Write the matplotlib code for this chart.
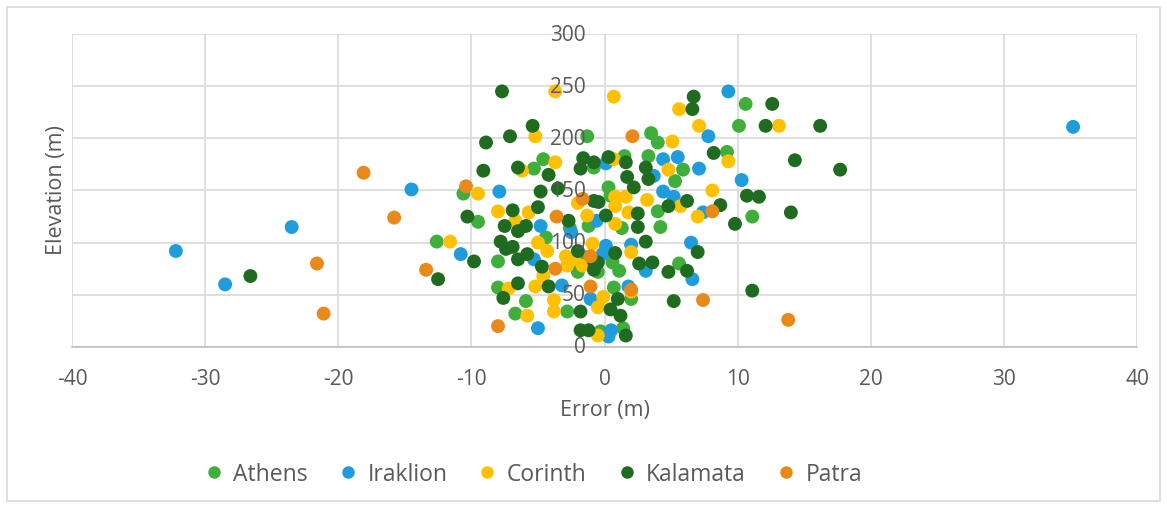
import matplotlib
matplotlib.use("Agg")
import matplotlib.pyplot as plt
from matplotlib.patches import Rectangle
from matplotlib.lines import Line2D
from matplotlib.transforms import offset_copy

plt.rcParams['font.family'] = ['Open Sans', 'DejaVu Sans']
plt.rcParams['axes.unicode_minus'] = False

# Error (m), Elevation (m) per station
athens_x = [-12.6, -10.6, -9.5, -8.0, -8.0, -5.9, -6.7, -2.8, -1.3, -4.6, -5.3, -0.8,
            4.0, 3.3, 5.9, 5.3, 1.5, 0.3, 0.45, 4.0, 4.2, 9.2, 10.6, 10.1, 11.1, 5.6,
            1.3, 1.1, 0.7, 2.0, 1.4, 0.6, -2.0, -1.4, -0.5, -1.2, -0.3, -2.6, -4.4, 3.5]
athens_y = [101, 147, 120, 82, 57, 44, 32, 34, 202, 180, 171, 172,
            196, 183, 170, 159, 183, 153, 145, 130, 115, 187, 233, 212, 125, 80,
            114, 73, 57, 46, 18, 81, 72, 86, 72, 116, 15, 114, 105, 205]

iraklion_x = [-32.2, -28.5, -23.5, -14.5, -10.8, -7.9, -5.0, -4.8, -5.3, -3.2, -1.05, -0.15,
              -0.6, 4.4, 5.5, 7.8, 9.3, 7.1, 10.3, 7.4, 6.5, 6.6, 4.4, 5.2, 3.1, 0.1,
              2.0, 1.8, 0.5, 0.3, 3.7, 0.1, 35.2, -2.5]
iraklion_y = [92, 60, 115, 151, 89, 149, 18, 116, 84, 59, 46, 89,
              121, 180, 182, 202, 245, 171, 160, 129, 100, 65, 149, 144, 73, 97,
              98, 58, 16, 10, 164, 176, 211, 110]

corinth_x = [-3.7, 0.7, -5.2, -3.7, -6.2, 5.6, 7.1, 5.1, 9.3, 4.8, 13.1, 0.7, 8.1,
             -9.5, -11.6, -8.0, -5.7, -6.7, -5.0, -4.3, -7.2, -5.2, -5.8, -3.8, -3.8,
             -4.6, -2.8, -2.3, -2.0, -1.3, -0.9, 0.8, 1.6, 0.8, 3.2, 1.8, 0.8, 5.7,
             7.0, -2.9, -1.65, -0.5, -0.5, 2.0, -0.1, 2.0]
corinth_y = [245, 240, 202, 177, 169, 228, 212, 197, 178, 170, 212, 180, 150,
             147, 101, 130, 129, 121, 100, 92, 56, 58, 30, 34, 45,
             68, 78, 84, 138, 126, 99, 144, 144, 135, 141, 129, 118, 135,
             125, 87, 78, 38, 11, 91, 48, 53]

kalamata_x = [-26.6, -12.5, -10.3, -9.8, -8.9, -9.1, -7.7, -7.1, -5.4, -6.5, -4.2, -1.6,
              -1.8, -0.8, -4.8, -3.5, -0.8, -6.9, -5.0, -7.5, -5.9, -2.7, -6.5, -7.8,
              -6.9, -6.5, -5.8, -6.5, -7.6, -4.7, -4.2, -1.8, -1.8, -1.2, -0.8, -0.8,
              -2.0, 0.3, 1.6, 3.1, 1.7, 3.3, 2.2, 6.2, 4.8, 0.1, 2.5, 2.5, -0.45,
              6.7, 6.6, 12.6, 12.1, 8.2, 14.3, 10.7, 11.6, 14.0, 8.7, 9.8, 7.0,
              16.2, 17.7, 11.1, 5.2, 4.8, 6.2, 3.6, 2.6, 0.8, 3.1, 1.0, 0.45, 1.2,
              1.6, -0.5, -7.4]
kalamata_y = [68, 65, 125, 82, 196, 169, 245, 202, 212, 172, 165, 181,
              171, 177, 149, 152, 140, 131, 134, 116, 116, 121, 111, 101,
              96, 84, 89, 61, 47, 77, 58, 34, 16, 16, 74, 82,
              92, 182, 177, 172, 163, 161, 153, 140, 135, 126, 128, 115, 139,
              240, 228, 233, 212, 186, 179, 145, 144, 129, 136, 118, 91,
              212, 170, 54, 44, 72, 73, 81, 80, 90, 101, 46, 36, 30,
              11, 81, 94]

patra_x = [-21.6, -21.1, -18.1, -15.8, -13.4, -10.4, -8.0, -3.6, -3.7, -1.05, -1.05,
           -1.65, 2.1, 8.1, 7.4, 13.8, 2.0]
patra_y = [80, 32, 167, 124, 74, 154, 20, 125, 75, 58, 87,
           142, 202, 130, 45, 26, 55]

names = ['Athens', 'Iraklion', 'Corinth', 'Kalamata', 'Patra']
colors = ['#3FAE3A', '#1E9CDC', '#FFC000', '#1F6B1F', '#E8891A']
series = [(athens_x, athens_y), (iraklion_x, iraklion_y), (corinth_x, corinth_y),
          (kalamata_x, kalamata_y), (patra_x, patra_y)]

xticks = [-40, -30, -20, -10, 0, 10, 20, 30, 40]
yticks = [0, 50, 100, 150, 200, 250, 300]

fig = plt.figure(figsize=(11.67, 5.06), dpi=100)
ax = fig.add_axes([0.0617, 0.3123, 0.9126, 0.6185])

for (xs, ys), name, c in zip(series, names, colors):
    ax.scatter(xs, ys, s=100, color=c, edgecolors='none', label=name, zorder=3)

ax.set_xlim(-40, 40)
ax.set_ylim(0, 300)
ax.set_xticks(xticks)
ax.set_yticks(yticks)
ax.set_yticklabels([])
ax.grid(True, color='#D9D9D9', linewidth=1.2)
ax.set_axisbelow(True)
for s in ['top', 'right', 'left']:
    ax.spines[s].set_visible(False)
ax.spines['bottom'].set_color('#BFBFBF')
ax.spines['bottom'].set_linewidth(1.2)
ax.tick_params(length=0)
ax.tick_params(axis='x', pad=15, labelsize=15, labelcolor='#595959')

# y labels sit on the zero line, above the points
lab_tr = offset_copy(ax.transData, fig=fig, x=-19, y=0, units='dots')
for v in yticks:
    ax.text(0, v, str(v), transform=lab_tr, ha='right', va='center',
            fontsize=15, color='#595959', zorder=5)

ax.set_xlabel('Error (m)', fontsize=15.5, color='#595959')
ax.xaxis.set_label_coords(0.5, -0.165)
ax.set_ylabel('Elevation (m)', fontsize=15.5, color='#595959')
ax.yaxis.set_label_coords(-0.005, 0.505)

handles = [Line2D([], [], marker='o', linestyle='none', markersize=9,
                  markerfacecolor=c, markeredgecolor='none') for c in colors]
fig.legend(handles, names, loc='center', bbox_to_anchor=(0.455, 0.061), ncol=5,
           frameon=False, fontsize=16.5, labelcolor='#595959',
           handletextpad=0.25, handlelength=1.2, columnspacing=1.15)

fig.patches.append(Rectangle((0.006, 0.008), 0.988, 0.976, transform=fig.transFigure,
                             fill=False, edgecolor='#D9D9D9', linewidth=1.2))

fig.savefig('out.png', dpi=100)
